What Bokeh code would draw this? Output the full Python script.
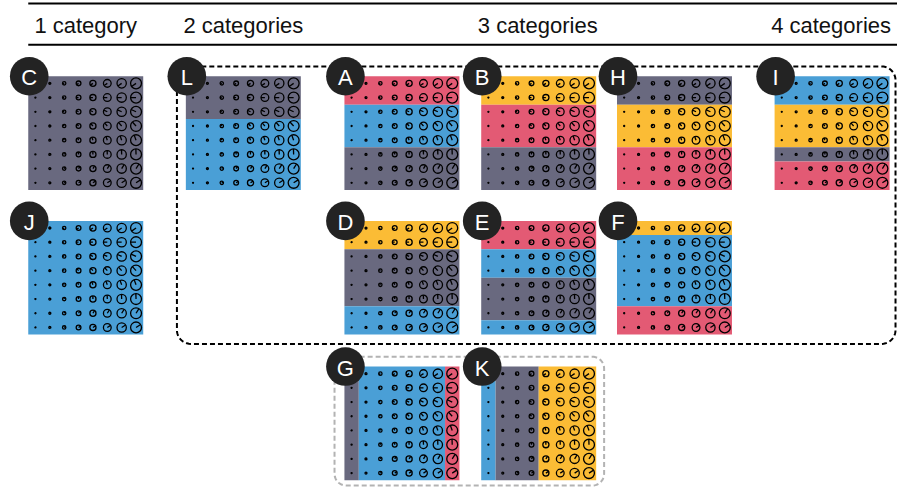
import numpy as np
from bokeh.plotting import figure
from bokeh.models import Range1d
from bokeh.embed import file_html
from bokeh.resources import INLINE
from bokeh.core.properties import value

# ---------------- data ----------------
category_colors = {"gray": "#69697f", "red": "#e35a74", "blue": "#4a9fd6", "yellow": "#fbbc35"}

headers = ["1 category", "2 categories", "3 categories", "4 categories"]

# band composition of each panel: (category, number of rows/columns)
panel_C = [("gray", 8)]
panel_J = [("blue", 8)]
panel_L = [("gray", 3), ("blue", 5)]
panel_A = [("red", 2), ("blue", 3), ("gray", 3)]
panel_B = [("yellow", 2), ("red", 3), ("gray", 3)]
panel_H = [("gray", 2), ("yellow", 3), ("red", 3)]
panel_I = [("blue", 2), ("yellow", 3), ("gray", 1), ("red", 2)]
panel_D = [("yellow", 2), ("gray", 4), ("blue", 2)]
panel_E = [("red", 2), ("blue", 2), ("gray", 3), ("blue", 1)]
panel_F = [("yellow", 1), ("blue", 5), ("red", 2)]
panel_G = [("gray", 1), ("blue", 6), ("red", 1)]      # column bands
panel_K = [("blue", 1), ("gray", 3), ("yellow", 4)]   # column bands

panels = {"C": panel_C, "J": panel_J, "L": panel_L, "A": panel_A, "B": panel_B,
          "H": panel_H, "I": panel_I, "D": panel_D, "E": panel_E, "F": panel_F,
          "G": panel_G, "K": panel_K}
column_banded = ["G", "K"]

# glyph encodings: hand angle per row (degrees), circle radius per column
row_angles = [215, 180, 155, 132, 110, 92, 58, 33]
col_radii = [0.5, 1.0, 1.7, 2.4, 3.1, 3.9, 4.7, 5.5]

# ---------------- layout (reference pixel space) ----------------
pos = {"C": (28, 77), "J": (28, 224), "L": (187, 77), "A": (347, 77), "B": (485, 77),
       "H": (622, 77), "I": (781, 77), "D": (347, 224), "E": (485, 224), "F": (622, 224),
       "G": (347, 372), "K": (485, 372)}
PW, PH = 116.0, 115.5
header_x = [86, 245, 542, 838]

p = figure(width=897, height=491, x_range=Range1d(0, 905), y_range=Range1d(499, 0),
           output_backend="svg", toolbar_location=None, min_border=0,
           x_axis_location=None, y_axis_location=None)
p.grid.visible = False
p.outline_line_color = None
p.background_fill_color = "white"

# header
p.segment(x0=[28, 28], y0=[3, 45], x1=[905, 905], y1=[3, 45], line_color="black", line_width=2)
p.text(x=header_x, y=[25.5] * 4, text=headers, text_align="center", text_baseline="alphabetic",
       text_font=value("Liberation Sans"), text_font_size="22px", text_color="#111111")

# bands
ql, qr, qt, qb, qc = [], [], [], [], []
cx, cy, cr, hx1, hy1 = [], [], [], [], []
for name, bands in panels.items():
    x0, y0 = pos[name]
    cw, ch = PW / 8, PH / 8
    start = 0
    for cat, n in bands:
        if name in column_banded:
            ql.append(x0 + start * cw); qr.append(x0 + (start + n) * cw)
            qt.append(y0); qb.append(y0 + PH)
        else:
            ql.append(x0); qr.append(x0 + PW)
            qt.append(y0 + start * ch); qb.append(y0 + (start + n) * ch)
        qc.append(category_colors[cat])
        start += n
    for r in range(8):
        a = np.deg2rad(row_angles[r])
        for c in range(8):
            x = x0 + (c + 0.5) * cw
            y = y0 + (r + 0.5) * ch
            rad = col_radii[c]
            cx.append(x); cy.append(y); cr.append(rad)
            hx1.append(x + rad * np.cos(a)); hy1.append(y - rad * np.sin(a))

p.quad(left=ql, right=qr, top=qt, bottom=qb, fill_color=qc, line_color=None)
p.circle(x=cx, y=cy, radius=cr, fill_color=None, line_color="black", line_width=1.3)
p.segment(x0=cx, y0=cy, x1=hx1, y1=hy1, line_color="black", line_width=1.3)


def rounded_box(l, r, t, b, rad):
    xs, ys = [], []
    corners = [(r - rad, t + rad, 90, 0), (r - rad, b - rad, 0, -90),
               (l + rad, b - rad, -90, -180), (l + rad, t + rad, 180, 90)]
    for ccx, ccy, a0, a1 in corners:
        ang = np.deg2rad(np.linspace(a0, a1, 12))
        xs.extend(ccx + rad * np.cos(ang)); ys.extend(ccy - rad * np.sin(ang))
    xs.append(xs[0]); ys.append(ys[0])
    return xs, ys


bx, by = rounded_box(178, 903, 67, 349, 14)
p.line(bx, by, line_color="black", line_width=2, line_dash="5 3")
gx, gy = rounded_box(337, 609, 362, 493, 12)
p.line(gx, gy, line_color="#b3b3b3", line_width=2, line_dash="5 3")

# badges
names = list(pos.keys())
bxs = [pos[n][0] + 1 for n in names]
bys = [pos[n][1] for n in names]
p.circle(x=bxs, y=bys, radius=19.5, fill_color="#232323", line_color=None)
p.text(x=bxs, y=[v + 1.5 for v in bys], text=names, text_align="center", text_baseline="alphabetic",
       text_font=value("Liberation Sans"), text_font_size="22px", text_color="white")

open("out.html", "w").write(file_html(p, INLINE))
